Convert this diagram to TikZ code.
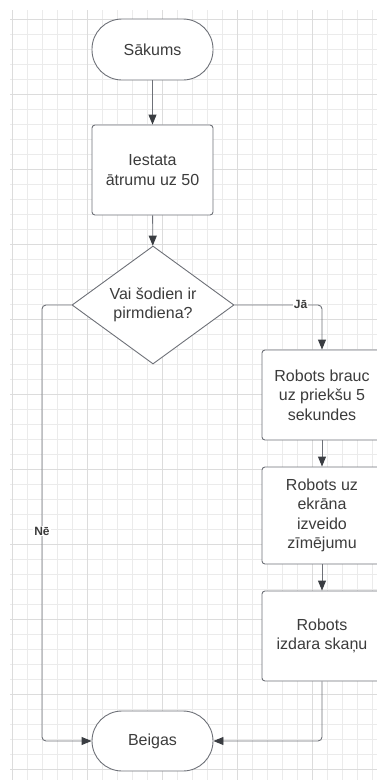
\documentclass[tikz,border=0pt]{standalone}
\usepackage{fontspec}
\setmainfont{Liberation Sans}
\usetikzlibrary{arrows.meta,shapes.geometric}
\definecolor{gridminor}{HTML}{EBEBEB}
\definecolor{gridmajor}{HTML}{DCDCDC}
\definecolor{edgecol}{HTML}{6E7178}
\definecolor{tipcol}{HTML}{3A3D42}
\definecolor{textcol}{HTML}{3C3C3C}
\tikzset{
  box/.style={draw=edgecol, line width=0.9pt, fill=white, text=textcol,
    font=\fontsize{16}{19.5}\selectfont, align=center, inner sep=0pt},
  terminal/.style={box, minimum width=121pt, minimum height=61pt, rounded corners=30pt},
  process/.style={box, minimum width=121pt, minimum height=90pt, rounded corners=3pt},
  decision/.style={box, diamond, shape aspect=1.37, minimum width=162pt, minimum height=118pt},
  flow/.style={draw=edgecol, line width=0.9pt, rounded corners=4pt,
    -{Triangle[length=10pt,width=8pt,color=tipcol,fill=tipcol]}},
  tag/.style={fill=white, text=textcol, inner sep=1pt,
    font=\fontsize{12}{14}\selectfont\bfseries},
}
\begin{document}
\begin{tikzpicture}[x=1pt,y=-1pt]
  \useasboundingbox (0,0) rectangle (377,780);
  \clip (0,0) rectangle (377,780);

  % background grid
  \foreach \gx in {12,27,...,377} \draw[gridminor, line width=0.8pt] (\gx,10) -- (\gx,780);
  \foreach \gy in {19.5,34.5,...,771} \draw[gridminor, line width=0.8pt] (10,\gy) -- (377,\gy);
  \foreach \gx in {12,87,...,377} \draw[gridmajor, line width=0.8pt] (\gx,10) -- (\gx,780);
  \foreach \gy in {19.5,94.5,...,771} \draw[gridmajor, line width=0.8pt] (10,\gy) -- (377,\gy);

  % flowchart nodes
  \node[terminal] (start) at (152.5,49.5) {Sākums};
  \node[process] (speed) at (152.5,170) {Iestata\\ātrumu uz 50};
  \node[decision] (monday) at (153,305) {Vai šodien ir\\pirmdiena?};
  \node[process, minimum width=120pt] (drive) at (322,395) {Robots brauc\\uz priekšu 5\\sekundes};
  \node[process, minimum width=120pt, minimum height=97pt] (screen) at (322,515.5) {Robots uz\\ekrāna\\izveido\\zīmējumu};
  \node[process, minimum width=120pt] (sound) at (322,636) {Robots\\izdara skaņu};
  \node[terminal, minimum height=60pt] (stop) at (152.5,741) {Beigas};

  \coordinate (noturn) at (42,741);

  % connectors
  \draw[flow] (start) -- (speed);
  \draw[flow] (speed) -- (monday);
  \draw[flow] (monday.east) -| (drive.north);
  \draw[flow] (drive) -- (screen);
  \draw[flow] (screen) -- (sound);
  \draw[flow] (sound.south) |- (stop.east);
  \draw[flow] (monday.west) -| (noturn) -- (stop.west);

  % branch labels
  \node[tag] (yes) at (300.5,304) {Jā};
  \node[tag] (no) at (42,531) {Nē};
\end{tikzpicture}
\end{document}
